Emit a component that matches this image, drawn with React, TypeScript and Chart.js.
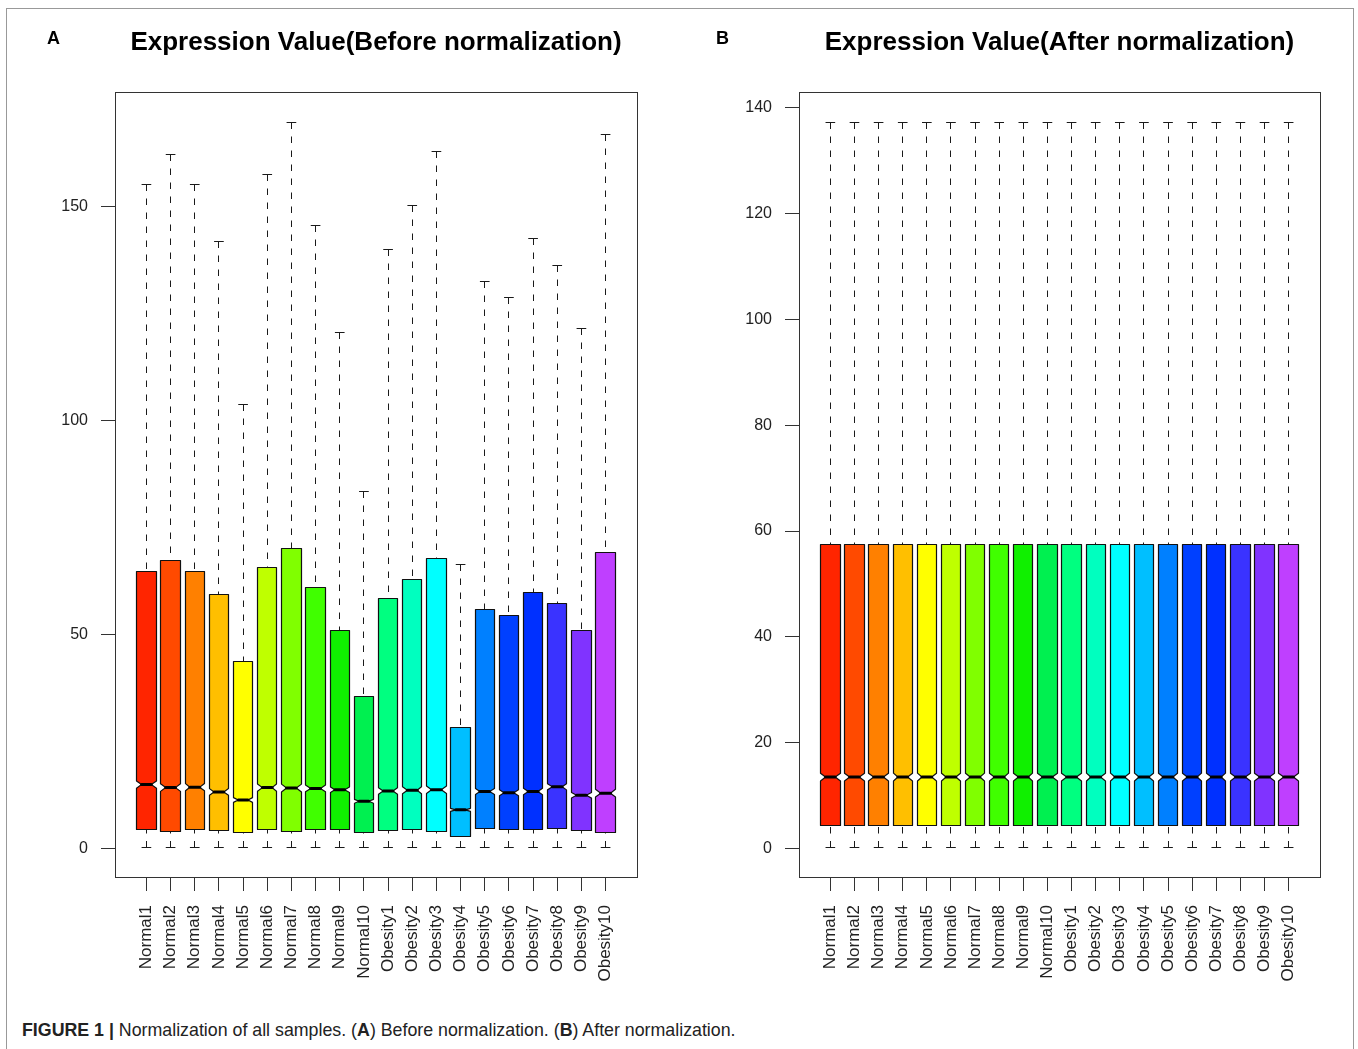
import React, { useEffect, useRef } from "react";
import { Chart, registerables } from "chart.js";

Chart.register(...registerables);

const FONT = "'Liberation Sans', Arial, Helvetica, sans-serif";

const sampleLabels = [
  "Normal1", "Normal2", "Normal3", "Normal4", "Normal5", "Normal6", "Normal7", "Normal8", "Normal9", "Normal10",
  "Obesity1", "Obesity2", "Obesity3", "Obesity4", "Obesity5", "Obesity6", "Obesity7", "Obesity8", "Obesity9", "Obesity10",
];

const boxColors = [
  "#FF2500", "#FF4A00", "#FF8000", "#FFBF00", "#FFFF00", "#BFFF00", "#80FF00", "#40FF00", "#10F000", "#00F050",
  "#00FF80", "#00FFBF", "#00FFFF", "#00BFFF", "#0080FF", "#0040FF", "#0030FF", "#3A33FF", "#8033FF", "#BF3FFF",
];

// number of genes per sample (sets the notch size, R: 1.58 * IQR / sqrt(n))
const geneCount = 13000;

// Panel A: before normalization
const beforeMax = [155.1, 162.1, 155.1, 142.0, 103.9, 157.6, 169.8, 145.7, 120.7, 83.5, 140.1, 150.4, 163.0, 66.5, 132.5, 128.9, 142.5, 136.2, 121.6, 166.9];
const beforeQ3 = [64.8, 67.4, 64.8, 59.5, 43.8, 65.8, 70.2, 61.1, 51.1, 35.6, 58.5, 63.0, 67.9, 28.4, 56.0, 54.6, 60.0, 57.4, 51.1, 69.3];
const beforeMedian = [15.0, 14.3, 14.4, 13.3, 11.4, 14.3, 14.2, 14.1, 13.8, 11.1, 13.5, 13.7, 13.8, 9.1, 13.4, 13.1, 13.4, 14.5, 12.5, 13.0];
const beforeQ1 = [4.5, 4.1, 4.5, 4.3, 3.9, 4.4, 4.0, 4.5, 4.4, 3.7, 4.3, 4.4, 4.1, 2.8, 4.8, 4.4, 4.5, 4.8, 4.2, 3.9];
const beforeMin = [0.2, 0.2, 0.2, 0.2, 0.2, 0.2, 0.2, 0.2, 0.2, 0.2, 0.2, 0.2, 0.2, 0.2, 0.2, 0.2, 0.2, 0.2, 0.2, 0.2];
const beforeYTicks = [0, 50, 100, 150];

// Panel B: after normalization
const afterMax = [137.3, 137.3, 137.3, 137.3, 137.3, 137.3, 137.3, 137.3, 137.3, 137.3, 137.3, 137.3, 137.3, 137.3, 137.3, 137.3, 137.3, 137.3, 137.3, 137.3];
const afterQ3 = [57.5, 57.5, 57.5, 57.5, 57.5, 57.5, 57.5, 57.5, 57.5, 57.5, 57.5, 57.5, 57.5, 57.5, 57.5, 57.5, 57.5, 57.5, 57.5, 57.5];
const afterMedian = [13.5, 13.5, 13.5, 13.5, 13.5, 13.5, 13.5, 13.5, 13.5, 13.5, 13.5, 13.5, 13.5, 13.5, 13.5, 13.5, 13.5, 13.5, 13.5, 13.5];
const afterQ1 = [4.35, 4.35, 4.35, 4.35, 4.35, 4.35, 4.35, 4.35, 4.35, 4.35, 4.35, 4.35, 4.35, 4.35, 4.35, 4.35, 4.35, 4.35, 4.35, 4.35];
const afterMin = [0.1, 0.1, 0.1, 0.1, 0.1, 0.1, 0.1, 0.1, 0.1, 0.1, 0.1, 0.1, 0.1, 0.1, 0.1, 0.1, 0.1, 0.1, 0.1, 0.1];
const afterYTicks = [0, 20, 40, 60, 80, 100, 120, 140];

type PanelProps = {
  title: string;
  max: number[];
  q3: number[];
  median: number[];
  q1: number[];
  min: number[];
  yTicks: number[];
  yAxisWidth: number;
  rightPad: number;
};

const CANVAS_W = 679;
const CANVAS_H = 1000;

function BoxPanel(props: PanelProps) {
  const ref = useRef<HTMLCanvasElement | null>(null);

  useEffect(() => {
    const canvas = ref.current;
    if (!canvas) return;
    const n = sampleLabels.length;
    const lo = Math.min(...props.min);
    const hi = Math.max(...props.max);
    const yPad = 0.04 * (hi - lo);
    const xPad = 0.04 * n;
    const al = (v: number) => Math.round(v - 0.5) + 0.5;

    const boxPlugin = {
      id: "notchedBoxes",
      afterDatasetsDraw(chart: any) {
        const { ctx } = chart;
        const x = chart.scales.x;
        const y = chart.scales.y;
        ctx.save();
        for (let i = 0; i < n; i++) {
          const pos = i + 1;
          const cx = al(x.getPixelForValue(pos));
          const xl = al(x.getPixelForValue(pos - 0.4));
          const xr = al(x.getPixelForValue(pos + 0.4));
          const nl = x.getPixelForValue(pos - 0.2);
          const nr = x.getPixelForValue(pos + 0.2);
          const sl = x.getPixelForValue(pos - 0.2);
          const sr = x.getPixelForValue(pos + 0.2);
          const notch = (1.58 * (props.q3[i] - props.q1[i])) / Math.sqrt(geneCount);
          const pMax = al(y.getPixelForValue(props.max[i]));
          const pQ3 = al(y.getPixelForValue(props.q3[i]));
          const pMed = y.getPixelForValue(props.median[i]);
          const pQ1 = al(y.getPixelForValue(props.q1[i]));
          const pMin = al(y.getPixelForValue(props.min[i]));
          const pNotchHi = y.getPixelForValue(props.median[i] + notch);
          const pNotchLo = y.getPixelForValue(props.median[i] - notch);

          // whiskers (dashed)
          ctx.strokeStyle = "#1a1a1a";
          ctx.lineWidth = 1;
          ctx.lineCap = "butt";
          ctx.setLineDash([6.5, 7.5]);
          ctx.beginPath();
          ctx.moveTo(cx, pMax);
          ctx.lineTo(cx, pQ3);
          ctx.moveTo(cx, pMin);
          ctx.lineTo(cx, pQ1);
          ctx.stroke();
          ctx.setLineDash([]);

          // notched box
          ctx.beginPath();
          ctx.moveTo(xl, pQ1);
          ctx.lineTo(xl, pNotchLo);
          ctx.lineTo(nl, pMed);
          ctx.lineTo(xl, pNotchHi);
          ctx.lineTo(xl, pQ3);
          ctx.lineTo(xr, pQ3);
          ctx.lineTo(xr, pNotchHi);
          ctx.lineTo(nr, pMed);
          ctx.lineTo(xr, pNotchLo);
          ctx.lineTo(xr, pQ1);
          ctx.closePath();
          ctx.fillStyle = boxColors[i];
          ctx.fill();
          ctx.lineJoin = "round";
          ctx.strokeStyle = "#111";
          ctx.lineWidth = 1.2;
          ctx.stroke();

          // median
          ctx.beginPath();
          ctx.lineCap = "round";
          ctx.lineWidth = 3;
          ctx.strokeStyle = "#000";
          ctx.moveTo(nl, pMed);
          ctx.lineTo(nr, pMed);
          ctx.stroke();

          // staples
          ctx.lineCap = "butt";
          ctx.lineWidth = 1;
          ctx.strokeStyle = "#1a1a1a";
          ctx.beginPath();
          ctx.moveTo(sl, pMax);
          ctx.lineTo(sr, pMax);
          ctx.moveTo(sl, pMin);
          ctx.lineTo(sr, pMin);
          ctx.stroke();
        }
        ctx.restore();
      },
      afterDraw(chart: any) {
        const { ctx, chartArea } = chart;
        ctx.save();
        ctx.strokeStyle = "#333";
        ctx.lineWidth = 1;
        const l = al(chartArea.left);
        const t = al(chartArea.top);
        const r = al(chartArea.right);
        const b = al(chartArea.bottom);
        ctx.strokeRect(l, t, r - l, b - t);
        ctx.restore();
      },
    };

    const titleSize = 26;
    const titleLine = titleSize * 1.2;
    const titleTop = 42.5 - titleLine / 2;

    const chart = new Chart(canvas, {
      type: "scatter",
      data: {
        datasets: [
          {
            data: props.median.map((m, i) => ({ x: i + 1, y: m })),
            pointRadius: 0,
            pointHoverRadius: 0,
            showLine: false,
          },
        ],
      },
      options: {
        responsive: false,
        animation: false,
        events: [],
        layout: { padding: { left: 0, right: props.rightPad, top: 0, bottom: 0 } },
        plugins: {
          legend: { display: false },
          tooltip: { enabled: false },
          title: {
            display: true,
            text: props.title,
            fullSize: false,
            color: "#000",
            font: { family: FONT, size: titleSize, weight: "bold", lineHeight: 1.2 },
            padding: { top: titleTop, bottom: 93 - titleTop - titleLine },
          },
        },
        scales: {
          x: {
            type: "linear",
            min: 0.5 - xPad,
            max: n + 0.5 + xPad,
            bounds: "data",
            afterBuildTicks: (s: any) => {
              s.ticks = sampleLabels.map((_, i) => ({ value: i + 1 }));
            },
            afterFit: (s: any) => {
              s.height = CANVAS_H - 877;
            },
            border: { display: false },
            grid: { display: true, drawOnChartArea: false, drawTicks: true, tickLength: 14, color: "#333", lineWidth: 1 },
            ticks: {
              autoSkip: false,
              minRotation: 90,
              maxRotation: 90,
              padding: 14,
              color: "#222",
              font: { family: FONT, size: 17 },
              callback: (_v: any, idx: number) => sampleLabels[idx],
            },
          },
          y: {
            type: "linear",
            min: lo - yPad,
            max: hi + yPad,
            bounds: "data",
            afterBuildTicks: (s: any) => {
              s.ticks = props.yTicks.map((v) => ({ value: v }));
            },
            afterFit: (s: any) => {
              s.width = props.yAxisWidth;
            },
            border: { display: false },
            grid: { display: true, drawOnChartArea: false, drawTicks: true, tickLength: 14, color: "#333", lineWidth: 1 },
            ticks: {
              padding: 13,
              color: "#222",
              font: { family: FONT, size: 16 },
              callback: (v: any) => String(v),
            },
          },
        },
      } as any,
      plugins: [boxPlugin as any],
    });
    return () => chart.destroy();
  }, []);

  return (
    <canvas
      ref={ref}
      width={CANVAS_W}
      height={CANVAS_H}
      style={{ display: "block", width: CANVAS_W, height: CANVAS_H }}
    />
  );
}

export default function App() {
  return (
    <div
      style={{
        position: "absolute",
        left: 0,
        top: 0,
        width: 1358,
        height: 1049,
        background: "#fff",
        overflow: "hidden",
        fontFamily: FONT,
      }}
    >
      <div
        style={{
          position: "absolute",
          left: 6,
          top: 8,
          width: 1346,
          height: 1080,
          border: "1px solid #999",
          borderBottom: "none",
        }}
      />
      <div style={{ position: "absolute", left: 0, top: 0 }}>
        <BoxPanel
          title="Expression Value(Before normalization)"
          max={beforeMax}
          q3={beforeQ3}
          median={beforeMedian}
          q1={beforeQ1}
          min={beforeMin}
          yTicks={beforeYTicks}
          yAxisWidth={115}
          rightPad={CANVAS_W - 637}
        />
      </div>
      <div style={{ position: "absolute", left: 679, top: 0 }}>
        <BoxPanel
          title="Expression Value(After normalization)"
          max={afterMax}
          q3={afterQ3}
          median={afterMedian}
          q1={afterQ1}
          min={afterMin}
          yTicks={afterYTicks}
          yAxisWidth={120}
          rightPad={CANVAS_W - 641}
        />
      </div>
      <div style={{ position: "absolute", left: 47, top: 29, fontSize: 18, lineHeight: "18px", fontWeight: "bold", color: "#000" }}>A</div>
      <div style={{ position: "absolute", left: 716, top: 29, fontSize: 18, lineHeight: "18px", fontWeight: "bold", color: "#000" }}>B</div>
      <div
        style={{
          position: "absolute",
          left: 22,
          top: 1020,
          fontSize: 17.8,
          lineHeight: "20px",
          color: "#222",
          whiteSpace: "nowrap",
          fontFamily: "'Liberation Sans Narrow', 'Liberation Sans', Arial, sans-serif",
        }}
      >
        <b>FIGURE 1 |</b> Normalization of all samples. (<b>A</b>) Before normalization. (<b>B</b>) After normalization.
      </div>
    </div>
  );
}
